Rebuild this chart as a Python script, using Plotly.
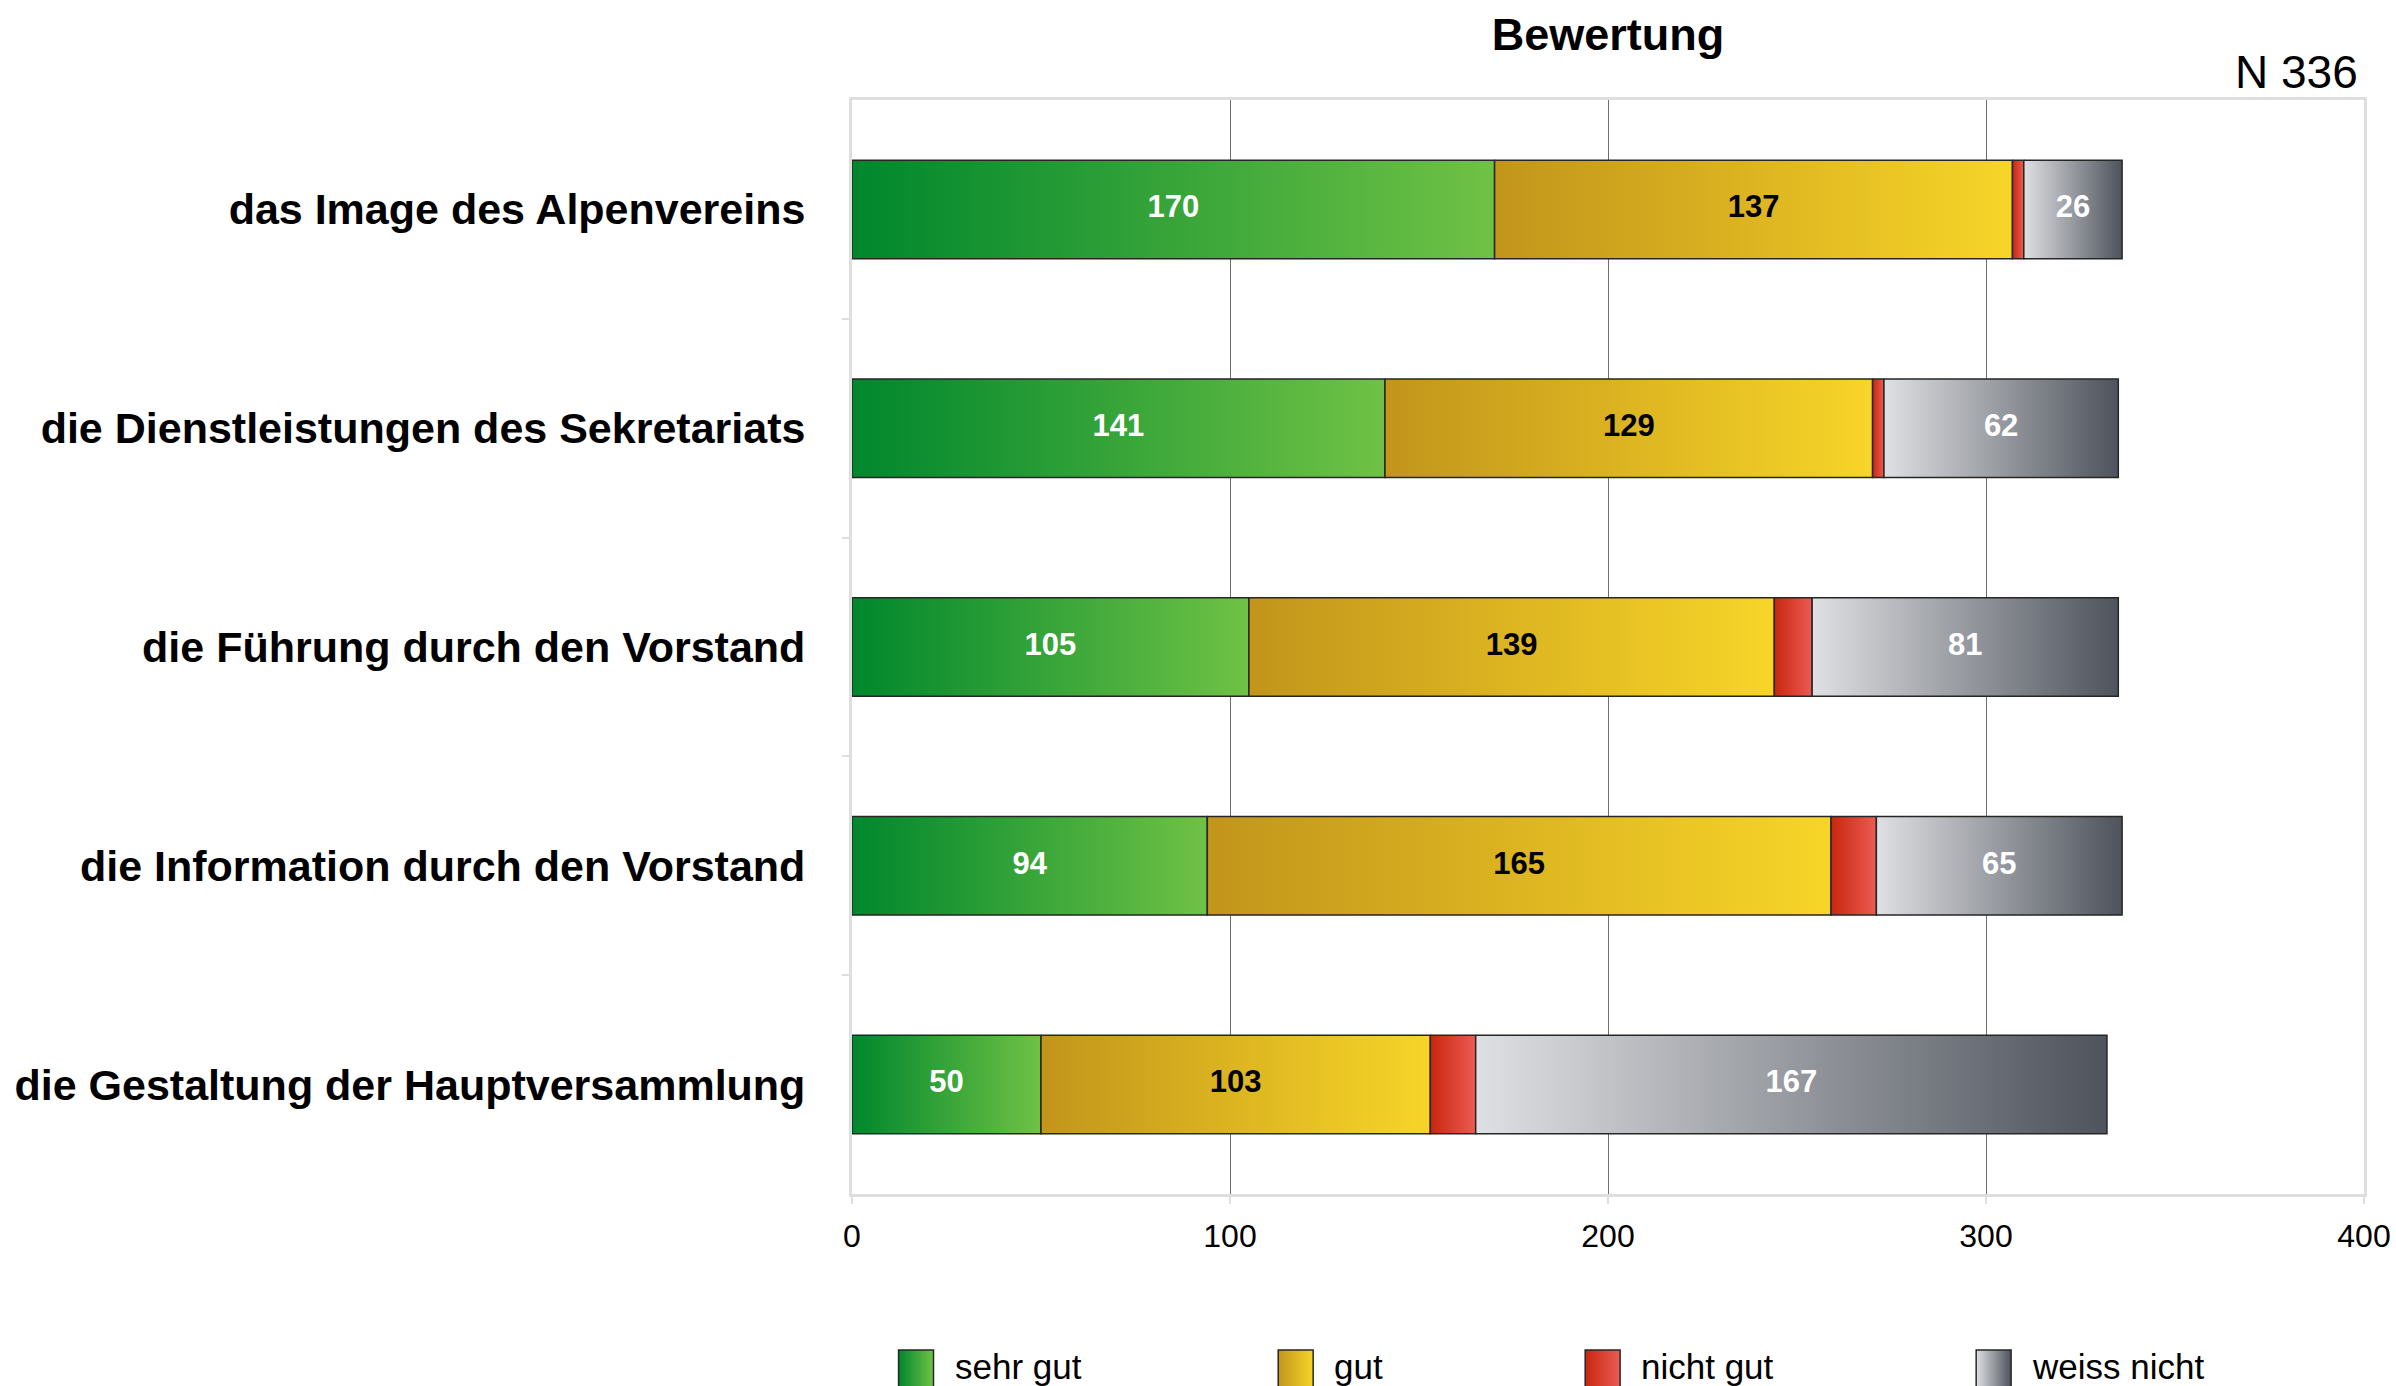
import plotly.graph_objects as go

# ---- data -----------------------------------------------------------------
categories = [
    "das Image des Alpenvereins",
    "die Dienstleistungen des Sekretariats",
    "die Führung durch den Vorstand",
    "die Information durch den Vorstand",
    "die Gestaltung der Hauptversammlung",
]
series_names = ["sehr gut", "gut", "nicht gut", "weiss nicht"]
sehr_gut = [170, 141, 105, 94, 50]
gut = [137, 129, 139, 165, 103]
nicht_gut = [3, 3, 10, 12, 12]
weiss_nicht = [26, 62, 81, 65, 167]
x_ticks = [0, 100, 200, 300, 400]
chart_title = "Bewertung"
sample_note = "N 336"

# ---- styling ---------------------------------------------------------------
FONT = "Liberation Sans, Arial, Helvetica, sans-serif"
gradients = {
    "sehr gut": ["#00872d", "#6fc245"],
    "gut": ["#c2951b", "#f7d528"],
    "nicht gut": ["#c8270f", "#ec5b52"],
    "weiss nicht": ["#dfe0e3", "#4e535c"],
}
label_colors = {"sehr gut": "white", "gut": "black", "nicht gut": None, "weiss nicht": "white"}
BAR_HALF = 0.225
OUTLINE = "#262626"
BOX = "#dedede"

W, H = 2396, 1386
M_L, M_R, M_T, M_B = 851.5, 32.4, 100, 0
plot_h = H - M_T - M_B
main_bottom_px = 1194
main_dom0 = (H - main_bottom_px) / plot_h

fig = go.Figure()

values = {"sehr gut": sehr_gut, "gut": gut, "nicht gut": nicht_gut, "weiss nicht": weiss_nicht}

# ---- stacked segments with horizontal gradients ----------------------------
left = [0] * len(categories)
for name in series_names:
    vals = values[name]
    mids = []
    for i, v in enumerate(vals):
        x0, x1 = left[i], left[i] + v
        fig.add_trace(go.Scatter(
            x=[x0, x1, x1, x0, x0],
            y=[i - BAR_HALF, i - BAR_HALF, i + BAR_HALF, i + BAR_HALF, i - BAR_HALF],
            mode="lines", fill="toself",
            line=dict(color=OUTLINE, width=1.5),
            fillgradient=dict(type="horizontal",
                              colorscale=[[0, gradients[name][0]], [1, gradients[name][1]]]),
            showlegend=False, hoverinfo="skip",
        ))
        mids.append((x0 + x1) / 2)
        left[i] = x1
    if label_colors[name]:
        fig.add_trace(go.Scatter(
            x=mids, y=list(range(len(categories))), mode="text",
            text=[str(v) for v in vals],
            textfont=dict(family=FONT, size=31, color=label_colors[name], weight="bold"),
            showlegend=False, hoverinfo="skip",
        ))

# ---- custom legend drawn on a helper axis ----------------------------------
leg_left = [0.0308, 0.2819, 0.4849, 0.7435]
leg_w = 0.0231
leg_text_dx = 0.0357
leg_top, leg_bot, leg_mid = 0.466, 0.0, 0.259
for name, lx in zip(series_names, leg_left):
    fig.add_trace(go.Scatter(
        x=[lx, lx + leg_w, lx + leg_w, lx, lx],
        y=[leg_bot - 0.1, leg_bot - 0.1, leg_top, leg_top, leg_bot - 0.1],
        xaxis="x2", yaxis="y2",
        mode="lines", fill="toself",
        line=dict(color=OUTLINE, width=1.5),
        fillgradient=dict(type="horizontal",
                          colorscale=[[0, gradients[name][0]], [1, gradients[name][1]]]),
        showlegend=False, hoverinfo="skip",
    ))
    fig.add_annotation(x=lx + leg_text_dx, y=leg_mid, xref="x2", yref="y2",
                       text=name, showarrow=False, xanchor="left", yanchor="middle",
                       font=dict(family=FONT, size=35, color="black"))

n_cat = len(categories)
fig.update_layout(
    width=W, height=H,
    margin=dict(l=M_L, r=M_R, t=M_T, b=M_B, pad=0),
    paper_bgcolor="white", plot_bgcolor="white",
    font=dict(family=FONT, color="black"),
    title=dict(text=chart_title, x=0.5, xref="paper", xanchor="center",
               y=1 - 34 / H, yref="container", yanchor="middle",
               font=dict(family=FONT, size=45, color="black", weight="bold")),
    xaxis=dict(
        range=[x_ticks[0], x_ticks[-1]], tickvals=x_ticks,
        showgrid=True, gridcolor="#6e6e6e", gridwidth=1, zeroline=False,
        showline=True, mirror=True, linecolor=BOX, linewidth=3,
        ticks="outside", ticklen=7, tickwidth=2, tickcolor=BOX,
        ticklabelstandoff=5,
        tickfont=dict(family=FONT, size=32, color="black"),
        anchor="y", layer="below traces",
    ),
    yaxis=dict(
        domain=[main_dom0, 1],
        range=[n_cat - 0.5, -0.5],
        tickmode="array", tickvals=list(range(n_cat)), ticktext=categories,
        showgrid=False, zeroline=False,
        showline=True, mirror=True, linecolor=BOX, linewidth=3,
        ticks="", ticklabelstandoff=35,
        tickfont=dict(family=FONT, size=43, color="black", weight="bold"),
        minor=dict(tickmode="array", tickvals=[i + 0.5 for i in range(n_cat - 1)],
                   ticks="outside", ticklen=7, tickwidth=2, tickcolor=BOX, showgrid=False),
        anchor="x",
    ),
    xaxis2=dict(domain=[0, 1], range=[0, 1], visible=False, anchor="y2", fixedrange=True),
    yaxis2=dict(domain=[0, 0.06], range=[0, 1], visible=False, anchor="x2", fixedrange=True),
    showlegend=False,
)

fig.add_annotation(text=sample_note, xref="paper", yref="paper",
                   x=(2360 - M_L) / (W - M_L - M_R), y=1 + (M_T - 72) / plot_h,
                   xanchor="right", yanchor="middle", showarrow=False,
                   font=dict(family=FONT, size=46, color="black"))

fig.write_html("out.html")
